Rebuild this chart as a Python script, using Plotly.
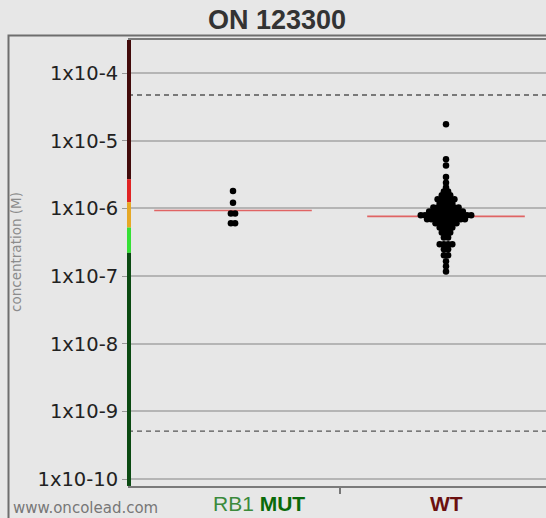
import plotly.graph_objects as go
from collections import Counter

# ---------------- data ----------------
title_text = "ON 123300"
categories = ["RB1 MUT", "WT"]
category_pos = [1, 2]

rb1_values = [1.8e-6, 1.21e-6, 8.4e-7, 8.4e-7, 6.0e-7, 6.0e-7]

wt_levels = [1.75e-5, 5.3e-6, 4.3e-6, 2.9e-6, 2.4e-6, 2.04e-6, 1.78e-6, 1.56e-6,
             1.36e-6, 1.19e-6, 1.03e-6, 9.0e-7, 7.9e-7, 6.9e-7, 6.0e-7, 5.2e-7,
             4.4e-7, 3.7e-7, 2.94e-7, 2.48e-7, 2.02e-7, 1.65e-7, 1.39e-7, 1.17e-7]
wt_counts = [1, 1, 1, 1, 1, 1, 2, 3,
             5, 4, 7, 9, 13, 10, 6, 4,
             3, 2, 4, 2, 2, 1, 1, 1]
wt_values = [v for v, c in zip(wt_levels, wt_counts) for _ in range(c)]

medians = [9.3e-7, 7.6e-7]

threshold_upper = 4.73e-5
threshold_lower = 5.1e-10

# colour band along the concentration axis (boundaries, top -> bottom)
band_edges = [3.08e-4, 2.7e-6, 1.23e-6, 5.2e-7, 2.2e-7, 7.9e-11]
band_colors = ["#420b0b", "#e02424", "#e6a826", "#36e036", "#0b4a12"]

y_tickvals = [1e-4, 1e-5, 1e-6, 1e-7, 1e-8, 1e-9, 1e-10]
y_ticktext = ["1x10-4", "1x10-5", "1x10-6", "1x10-7", "1x10-8", "1x10-9", "1x10-10"]

# ---------------- layout constants ----------------
W, H = 546, 518
L, R, T, B = 128, 0, 40, 32
PW, PH = W - L - R, H - T - B
PX_PER_UNIT = 213.0
x_range = [1 - (233 - L) / PX_PER_UNIT, 2 + (W - 446) / PX_PER_UNIT]
y_range = [-10.103, -3.512]
STEP = 4.2 / PX_PER_UNIT
MED_HALF = 0.37
BG = "#e7e7e7"


def px_x(px):
    return (px - L) / PW


def px_y(py):
    return (H - B - py) / PH


def swarm(values, center, step):
    counts = Counter(values)
    xs, ys = [], []
    for v in sorted(counts, reverse=True):
        n = counts[v]
        for k in range(n):
            xs.append(center + (k - (n - 1) / 2) * step)
            ys.append(v)
    return xs, ys


fig = go.Figure()

# median lines
for pos, med in zip(category_pos, medians):
    fig.add_trace(go.Scatter(x=[pos - MED_HALF, pos + MED_HALF], y=[med, med],
                             mode="lines", line=dict(color="#e06464", width=1.6),
                             hoverinfo="skip", showlegend=False))

# points
for pos, vals in zip(category_pos, [rb1_values, wt_values]):
    xs, ys = swarm(vals, pos, STEP)
    fig.add_trace(go.Scatter(x=xs, y=ys, mode="markers",
                             marker=dict(color="black", size=6.5, line=dict(width=0)),
                             showlegend=False))

shapes = []
# threshold dashed lines
for thr in [threshold_upper, threshold_lower]:
    shapes.append(dict(type="line", xref="paper", yref="y", x0=0, x1=1, y0=thr, y1=thr,
                       line=dict(color="#555555", width=1.3, dash="5px,4px"), layer="above"))
# colour band
for i, col in enumerate(band_colors):
    shapes.append(dict(type="rect", xref="paper", yref="y",
                       x0=px_x(127), x1=px_x(131),
                       y0=band_edges[i + 1], y1=band_edges[i],
                       fillcolor=col, line=dict(width=0), layer="above"))
# outer frame
shapes.append(dict(type="path", xref="paper", yref="paper",
                   path=f"M {px_x(8.5)},{px_y(H)} L {px_x(8.5)},{px_y(35.5)} L {px_x(W)},{px_y(35.5)}",
                   line=dict(color="#6e6e6e", width=2)))

annotations = [
    dict(text=f"<b>{title_text}</b>", xref="paper", yref="paper",
         x=px_x(277), y=px_y(20), xanchor="center", yanchor="middle", showarrow=False,
         font=dict(family="Liberation Sans", size=27, color="#333333")),
    dict(text="concentration (M)", xref="paper", yref="paper", textangle=-90,
         x=px_x(16), y=px_y(252), xanchor="center", yanchor="middle", showarrow=False,
         font=dict(family="DejaVu Sans", size=13.5, color="#8c8c8c")),
    dict(text="www.oncolead.com", xref="paper", yref="paper",
         x=px_x(11), y=px_y(508), xanchor="left", yanchor="middle", showarrow=False,
         font=dict(family="DejaVu Sans", size=15, color="#777777")),
    dict(text="<span style='color:#3b8a3b'>RB1</span> <b style='color:#0a6a0a'>MUT</b>",
         xref="paper", yref="paper", x=px_x(259), y=px_y(504),
         xanchor="center", yanchor="middle", showarrow=False,
         font=dict(family="Liberation Sans", size=21)),
    dict(text="<b>WT</b>", xref="x", yref="paper", x=category_pos[1], y=px_y(504),
         xanchor="center", yanchor="middle", showarrow=False,
         font=dict(family="Liberation Sans", size=21, color="#6b1010")),
]

fig.update_layout(
    width=W, height=H,
    margin=dict(l=L, r=R, t=T, b=B, pad=0),
    paper_bgcolor=BG, plot_bgcolor=BG,
    shapes=shapes, annotations=annotations,
    xaxis=dict(range=x_range, showgrid=False, zeroline=False,
               tickvals=[1.5], ticktext=[""], ticks="outside", ticklen=6,
               tickcolor="#777777", tickwidth=2,
               showline=True, linecolor="#7a7a7a", linewidth=2, mirror=True),
    yaxis=dict(type="log", range=y_range, tickvals=y_tickvals, ticktext=y_ticktext,
               ticks="outside", ticklen=5, tickcolor="#999999", tickwidth=1,
               showgrid=True, gridcolor="#b5b5b5", gridwidth=1.5,
               showline=False, zeroline=False,
               tickfont=dict(family="DejaVu Sans", size=19.5, color="#222222")),
)

fig.write_html("out.html", config={"displayModeBar": False},
               post_script="document.body.style.margin='0px';document.body.style.background='%s';" % BG)
